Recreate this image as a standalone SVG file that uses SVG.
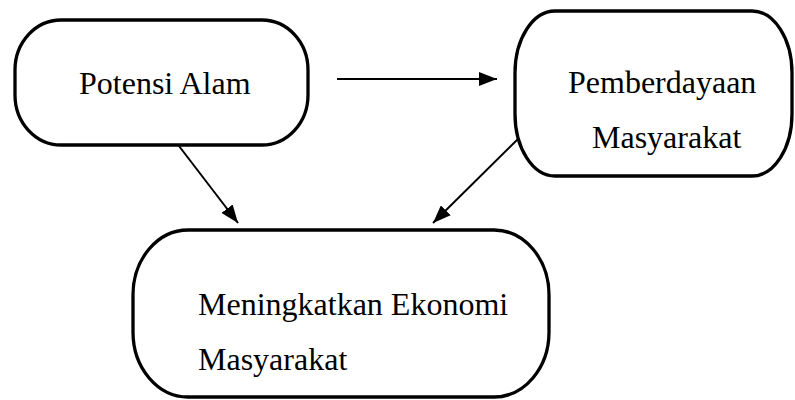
<svg xmlns="http://www.w3.org/2000/svg" width="795" height="400" viewBox="0 0 795 400">
<style>
.node{fill:#fff;stroke:#000;stroke-width:3.3}
.lbl{font-family:Liberation Serif, Times New Roman, Times, serif;font-size:32px;fill:#000}
.edge{stroke:#000;stroke-width:2;fill:none}
</style>
<defs>
<marker id="ah" markerWidth="9" markerHeight="7" refX="9" refY="3.5" orient="auto" markerUnits="strokeWidth">
<path d="M0,0 L9,3.5 L0,7 Z" fill="#000"/>
</marker>
</defs>
<rect width="795" height="400" fill="#fff"/>
<g id="connectors">
<line class="edge" x1="337" y1="79" x2="497" y2="79" marker-end="url(#ah)"/>
<line class="edge" x1="179" y1="146" x2="238" y2="223" marker-end="url(#ah)"/>
<line class="edge" x1="519" y1="138" x2="433" y2="223" marker-end="url(#ah)"/>
</g>
<g id="potensi-alam">
<rect class="node" x="15" y="20" width="293" height="125" rx="46" ry="50"/>
<text class="lbl" x="79" y="94">Potensi Alam</text>
</g>
<g id="pemberdayaan">
<rect class="node" x="515" y="11" width="277" height="165" rx="40" ry="62"/>
<text class="lbl" x="568" y="93">Pemberdayaan</text>
<text class="lbl" x="592" y="148">Masyarakat</text>
</g>
<g id="meningkatkan">
<rect class="node" x="133" y="230" width="416" height="167" rx="55" ry="65"/>
<text class="lbl" x="198" y="315">Meningkatkan Ekonomi</text>
<text class="lbl" x="198" y="370">Masyarakat</text>
</g>
</svg>
